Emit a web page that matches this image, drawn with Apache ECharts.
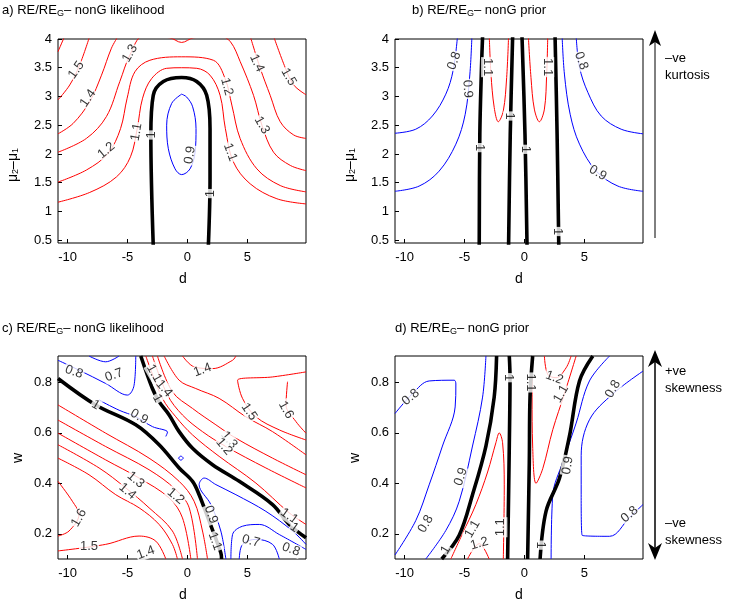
<!DOCTYPE html>
<html><head><meta charset="utf-8">
<script src="https://cdn.jsdelivr.net/npm/echarts@6/dist/echarts.min.js"></script>
<style>html,body{margin:0;background:#fff}#c{width:742px;height:605px}</style>
</head><body><div id="c"></div>
<script>
// ---------- Panel a: contours (d, mu2-mu1) ----------
const aBlack1 = [[-2.85,0.4],[-3.05,2.33],[-2.85,3.02],[-2.01,3.26],[-0.48,3.33],[0.78,3.26],[1.61,3.02],[1.89,2.44],[1.89,1.57],[1.75,0.4]];
const aBlue09 = [[-0.48,3.04],[-1.31,2.88],[-1.73,2.5],[-1.59,2.09],[-1.03,1.74],[-0.48,1.64],[0.22,1.74],[0.64,2.03],[0.72,2.44],[0.44,2.82],[-0.06,2.99],[-0.48,3.04]];
const aRed11 = [[-10.8,1.16],[-8.15,1.33],[-5.92,1.6],[-4.75,1.95],[-4.19,2.44],[-3.74,2.97],[-2.99,3.31],[-1.73,3.49],[-0.48,3.5],[0.78,3.49],[1.89,3.37],[2.73,3.02],[3.17,2.44],[3.84,1.86],[5.24,1.48],[7.47,1.22],[9.9,1.13]];
const aRed12 = [[-10.8,1.51],[-8.43,1.72],[-6.62,2.01],[-5.58,2.44],[-5.03,2.97],[-4.38,3.43],[-3.13,3.63],[-0.48,3.69],[2.17,3.63],[3.15,3.31],[3.71,2.85],[4.4,2.27],[5.8,1.74],[7.75,1.45],[9.9,1.34]];
const aRed13 = [[-10.8,2.03],[-8.43,2.27],[-6.76,2.65],[-5.64,3.26],[-4.8,3.72],[-3.69,4.05],[-1.46,4.02],[-0.48,3.94],[0.5,4.02],[2.73,4.05],[3.6,3.95],[4.4,3.61],[5.52,3.02],[6.22,2.5],[7.19,2.03],[8.59,1.8],[9.9,1.71]];
const aRed14L = [[-10.8,2.35],[-9.54,2.53],[-8.15,2.91],[-7.17,3.37],[-6.34,3.84],[-5.78,4.05]];
const aRed14R = [[5.24,4.05],[6.08,3.49],[6.91,3.02],[7.75,2.56],[8.87,2.33],[9.9,2.27]];
const aRed15L = [[-10.8,2.94],[-9.82,3.2],[-8.99,3.55],[-8.15,4.05]];
const aRed15R = [[7.19,4.05],[8.17,3.5],[8.87,3.2],[9.9,3.03]];
const aRed16 = [[-10.8,3.78],[-10.24,4.05]];
const aLabels = [[-9.27,3.46,'1.5',55],[-8.29,2.97,'1.4',55],[-4.8,3.75,'1.3',60],[-4.25,2.38,'1.1',80],[-6.76,2.06,'1.2',40],[-2.99,2.33,'1',90],[0.22,1.98,'0.9',80],[1.89,1.31,'1',90],[3.57,2.03,'1.1',-70],[3.29,3.17,'1.2',-75],[6.22,2.5,'1.3',-60],[5.8,3.58,'1.4',-65],[8.45,3.34,'1.5',-60]];

// ---------- Panel b ----------
const bBlack1 = [[-3.77,0.4],[-3.72,2.34],[-3.58,3.51],[-3.49,4.05]];
const bBlack2 = [[-1.32,0.4],[-1.18,2.34],[-0.98,4.05]];
const bBlack3 = [[0.22,0.4],[0.05,2.34],[-0.2,4.05]];
const bBlack4 = [[2.87,0.4],[2.73,2.34],[2.56,4.05]];
const bRed11L = [[-2.93,4.05],[-2.79,3.39],[-2.52,2.81],[-2.18,2.56],[-1.76,2.75],[-1.48,3.33],[-1.32,4.05]];
const bRed11R = [[0.33,4.05],[0.55,3.33],[0.83,2.78],[1.25,2.56],[1.67,2.78],[1.86,3.39],[1.95,4.05]];
const bBlue09L = [[-10.8,1.35],[-8.79,1.44],[-7.12,1.7],[-5.72,2.17],[-4.94,2.69],[-4.55,3.39],[-4.38,4.05]];
const bBlue08L = [[-10.8,2.36],[-9.07,2.43],[-7.68,2.66],[-6.56,3.04],[-5.95,3.45],[-5.58,4.05]];
const bBlue09R = [[9.9,1.35],[7.81,1.44],[6.0,1.7],[4.6,2.17],[3.82,2.69],[3.34,3.39],[3.15,4.05]];
const bBlue08R = [[9.9,2.35],[8.08,2.43],[6.41,2.66],[5.3,3.07],[4.6,3.51],[4.32,4.05]];
const bLabels = [[-5.86,3.62,'0.8',70],[-4.75,3.13,'0.9',-85],[-3.07,3.51,'1.1',-90],[-1.23,2.66,'1',-90],[-3.77,2.11,'1',-90],[0.13,2.08,'1',-90],[1.95,3.51,'1.1',-90],[4.74,3.62,'0.8',-70],[6.13,1.67,'0.9',-30],[2.8,0.65,'1',-90]];

// ---------- Panel c (d, w) ----------
const cBlack1 = [[-10.8,0.816],[-7.65,0.711],[-4.31,0.632],[-2.36,0.553],[-0.69,0.461],[0.43,0.408],[0.98,0.355],[1.82,0.25],[2.79,0.125],[2.85,0.1]];
const cBlack2 = [[-3.89,0.905],[-2.92,0.776],[-2.36,0.724],[-1.52,0.671],[-0.69,0.605],[0.43,0.539],[2.1,0.474],[4.33,0.408],[7.11,0.316],[8.5,0.237],[9.9,0.184]];
const cRed11 = [[-10.8,0.711],[-6.82,0.599],[-3.2,0.5],[-0.69,0.408],[0.56,0.329],[1.26,0.211],[1.68,0.1]];
const cRed12 = [[-10.8,0.651],[-6.82,0.546],[-3.2,0.454],[-0.97,0.375],[0.15,0.303],[0.84,0.1]];
const cRed13 = [[-10.8,0.599],[-6.82,0.493],[-4.03,0.421],[-1.52,0.342],[-0.41,0.263],[0.29,0.1]];
const cRed14 = [[-10.8,0.553],[-7.37,0.461],[-5.15,0.382],[-3.2,0.303],[-1.25,0.211],[-0.41,0.1]];
const cRed15 = [[-10.8,0.5],[-8.21,0.434],[-5.98,0.355],[-4.03,0.303],[-2.36,0.237],[-1.25,0.158],[-0.83,0.1]];
const cRed16 = [[-10.8,0.408],[-9.6,0.329],[-9.05,0.276],[-9.88,0.211],[-10.8,0.191]];
const cRed15b = [[-10.8,0.132],[-6.82,0.158],[-4.03,0.191],[-2.64,0.171],[-1.8,0.1]];
const cRedU11 = [[-3.47,0.905],[-2.08,0.737],[-0.97,0.664],[0.43,0.592],[2.65,0.507],[5.72,0.401],[8.5,0.283],[9.9,0.237]];
const cRedU12 = [[-2.92,0.905],[-1.66,0.75],[-0.41,0.671],[1.26,0.605],[3.21,0.546],[6.55,0.461],[9.9,0.382]];
const cRedU13 = [[-2.5,0.905],[-1.25,0.763],[0.43,0.697],[2.38,0.632],[4.05,0.579],[7.11,0.5],[9.9,0.434]];
const cRedU14 = [[-1.94,0.905],[-0.69,0.809],[0.7,0.776],[2.65,0.737],[4.88,0.664],[7.11,0.605],[9.9,0.513]];
const cRedU15 = [[9.9,0.842],[7.11,0.822],[4.19,0.809],[4.6,0.737],[5.72,0.664],[7.67,0.612],[9.9,0.572]];
const cRedU16 = [[8.36,0.803],[8.23,0.711],[9.06,0.645],[9.9,0.599]];
const cRedU14b = [[-0.41,0.905],[0.56,0.862],[2.1,0.855],[3.77,0.888],[4.05,0.905]];
const cBlue08 = [[-10.8,0.888],[-9.05,0.849],[-6.82,0.796],[-5.01,0.75],[-4.45,0.789],[-4.31,0.905]];
const cBlue07 = [[-8.21,0.905],[-6.82,0.882],[-5.7,0.905]];
const cBlue09 = [[-7.37,0.73],[-5.7,0.69],[-4.31,0.664],[-2.92,0.625],[-1.66,0.603],[-1.8,0.586]];
const cBlueDot = [[-0.75,0.5],[-0.55,0.508],[-0.35,0.5],[-0.55,0.492],[-0.75,0.5]];
const cBlue09b = [[3.21,0.1],[2.79,0.211],[1.96,0.316],[0.98,0.395],[1.4,0.421],[2.38,0.395],[4.05,0.355],[6.55,0.289],[8.78,0.211],[9.9,0.158]];
const cBlue08b = [[3.63,0.1],[3.77,0.197],[4.6,0.23],[6.0,0.237],[7.67,0.197],[9.9,0.138]];
const cBlue07b = [[4.33,0.1],[4.6,0.158],[5.72,0.178],[7.11,0.158],[7.67,0.1]];
const cLabels = [[-9.46,0.842,'0.8',-20],[-6.12,0.829,'0.7',20],[-2.78,0.836,'1.1',-60],[-1.94,0.776,'1.4',-50],[1.26,0.849,'1.4',20],[5.16,0.684,'1.5',-55],[8.23,0.691,'1.6',-60],[-4.03,0.664,'0.9',-30],[3.49,0.572,'1.3',-50],[3.07,0.546,'1.2',-50],[-4.31,0.414,'1.3',-40],[-5.01,0.368,'1.4',-40],[-0.97,0.349,'1.2',-40],[1.96,0.276,'0.9',-70],[2.3,0.17,'1.1',-70],[-9.05,0.263,'1.6',60],[-8.21,0.151,'1.5',0],[-3.47,0.125,'1.4',20],[5.3,0.171,'0.7',-15],[8.64,0.138,'0.8',-20],[8.5,0.27,'1.1',-35],[8.92,0.224,'1',-35],[-7.65,0.711,'1',-30],[-2.5,0.737,'1',-60]];

// ---------- Panel d ----------
const dBlack1 = [[-6.9,0.1],[-5.44,0.194],[-4.33,0.355],[-3.21,0.548],[-2.52,0.742],[-2.32,0.905]];
const dBlack2 = [[-1.4,0.1],[-1.26,0.548],[-1.2,0.819],[-1.26,0.905]];
const dBlack3 = [[0.27,0.1],[0.41,0.484],[0.47,0.742],[0.69,0.905]];
const dBlack4 = [[1.31,0.1],[1.81,0.29],[2.92,0.419],[3.76,0.587],[4.6,0.806],[5.71,0.905]];
const dRed11L = [[-6.14,0.1],[-5.17,0.2],[-4.05,0.316],[-3.07,0.445],[-2.38,0.561],[-2.1,0.6],[-1.82,0.561],[-1.68,0.394],[-1.76,0.1]];
const dRed12L = [[-4.75,0.1],[-3.77,0.161],[-2.94,0.1]];
const dRed11R = [[0.69,0.905],[0.64,0.742],[0.69,0.548],[0.97,0.4],[1.53,0.458],[2.37,0.613],[3.34,0.755],[4.32,0.905]];
const dRed12R = [[1.67,0.905],[1.95,0.832],[2.65,0.819],[3.48,0.858],[3.9,0.905]];
const dBlue08L = [[-10.8,0.677],[-9.35,0.755],[-7.95,0.806],[-5.86,0.809],[-5.72,0.794],[-5.78,0.703],[-6.84,0.548],[-7.95,0.394],[-9.07,0.252],[-10.8,0.116]];
const dBlue09L = [[-8.23,0.1],[-6.56,0.213],[-5.44,0.329],[-4.33,0.548],[-3.49,0.742],[-3.21,0.905]];
const dBlue09R = [[2.23,0.1],[2.37,0.355],[3.2,0.484],[4.32,0.639],[5.43,0.806],[7.11,0.905]];
const dBlue08R = [[9.9,0.845],[7.39,0.755],[5.43,0.652],[4.74,0.51],[4.74,0.355],[4.82,0.194],[7.11,0.19],[8.78,0.265],[9.9,0.316]];
const dLabels = [[-9.49,0.742,'0.8',40],[-8.23,0.239,'0.8',60],[-5.3,0.426,'0.9',70],[-6.56,0.136,'1',60],[-4.33,0.219,'1.1',60],[-3.77,0.161,'1.2',15],[-1.96,0.226,'1.1',90],[-1.32,0.819,'1',-90],[0.55,0.8,'1.1',-90],[2.5,0.819,'1.2',-20],[3.06,0.755,'1.1',60],[3.62,0.471,'0.9',80],[7.39,0.774,'0.8',60],[8.78,0.277,'0.8',40],[1.39,0.155,'1',-90]];

const BLACK='#000', RED='#ff0000', BLUE='#0000ff';
const panels = [
  {lines:[[aRed11,RED],[aRed12,RED],[aRed13,RED],[aRed14L,RED],[aRed14R,RED],[aRed15L,RED],[aRed15R,RED],[aRed16,RED],[aBlue09,BLUE],[aBlack1,BLACK]], labels:aLabels},
  {lines:[[bRed11L,RED],[bRed11R,RED],[bBlue09L,BLUE],[bBlue08L,BLUE],[bBlue09R,BLUE],[bBlue08R,BLUE],[bBlack1,BLACK],[bBlack2,BLACK],[bBlack3,BLACK],[bBlack4,BLACK]], labels:bLabels},
  {lines:[[cRed11,RED],[cRed12,RED],[cRed13,RED],[cRed14,RED],[cRed15,RED],[cRed16,RED],[cRed15b,RED],[cRedU11,RED],[cRedU12,RED],[cRedU13,RED],[cRedU14,RED],[cRedU15,RED],[cRedU16,RED],[cRedU14b,RED],[cBlue08,BLUE],[cBlue07,BLUE],[cBlue09,BLUE],[cBlueDot,BLUE],[cBlue09b,BLUE],[cBlue08b,BLUE],[cBlue07b,BLUE],[cBlack1,BLACK],[cBlack2,BLACK]], labels:cLabels},
  {lines:[[dRed11L,RED],[dRed12L,RED],[dRed11R,RED],[dRed12R,RED],[dBlue08L,BLUE],[dBlue09L,BLUE],[dBlue09R,BLUE],[dBlue08R,BLUE],[dBlack1,BLACK],[dBlack2,BLACK],[dBlack3,BLACK],[dBlack4,BLACK]], labels:dLabels}
];
const xTicks=[-10,-5,0,5];
const yTicksTop=[0.5,1,1.5,2,2.5,3,3.5,4];
const yTicksBot=[0.2,0.4,0.6,0.8];
const FONT='Liberation Sans';
const gridPos=[{left:58,top:39,width:248,height:204},{left:395,top:39,width:248,height:204},{left:58,top:356,width:248,height:203},{left:395,top:356,width:248,height:203}];
const grid=[],xAxis=[],yAxis=[],series=[];
panels.forEach((p,i)=>{
  grid.push(Object.assign({show:true,borderColor:'#000',borderWidth:1,backgroundColor:'#fff'},gridPos[i]));
  xAxis.push({gridIndex:i,type:'value',min:-10.8,max:9.9,splitLine:{show:false},
    axisLine:{show:false,onZero:false},axisTick:{inside:true,length:4,customValues:xTicks,lineStyle:{color:'#000'}},
    axisLabel:{customValues:xTicks,color:'#000',fontSize:13,fontFamily:FONT,margin:8}});
  const top=i<2;
  const yt= top?yTicksTop:yTicksBot;
  yAxis.push({gridIndex:i,type:'value',min:top?0.45:0.1,max:top?4:0.905,splitLine:{show:false},
    axisLine:{show:false,onZero:false},axisTick:{inside:true,length:4,customValues:yt,lineStyle:{color:'#000'}},
    axisLabel:{customValues:yt,color:'#000',fontSize:13,fontFamily:FONT,margin:6,formatter:v=>String(Math.round(v*10)/10)}});
  p.lines.forEach(([data,col])=>{
    series.push({type:'line',xAxisIndex:i,yAxisIndex:i,data:data,showSymbol:false,smooth:0.35,clip:true,silent:true,
      lineStyle:{color:col,width:col===BLACK?3.6:1}});
  });
  series.push({type:'scatter',xAxisIndex:i,yAxisIndex:i,symbolSize:0,silent:true,z:5,
    data:p.labels.map(l=>({value:[l[0],l[1]],label:{rotate:l[3]},name:l[2]})),
    label:{show:true,position:'inside',formatter:q=>q.name,color:'#000',fontSize:13,fontFamily:FONT,backgroundColor:'#fff',padding:[0,1]}});
});
const sub={g:{fontSize:9,verticalAlign:'bottom',padding:[6,0,0,0],fontFamily:FONT,color:'#000'}};
const option={animation:false,grid,xAxis,yAxis,series,
  graphic:[
    {type:'text',left:2,top:4,style:{text:'a) RE/RE{g|G}– nonG likelihood',rich:sub,fontSize:13,fontFamily:FONT,fill:'#000'}},
    {type:'text',left:412,top:4,style:{text:'b) RE/RE{g|G}– nonG prior',rich:sub,fontSize:13,fontFamily:FONT,fill:'#000'}},
    {type:'text',left:2,top:322,style:{text:'c) RE/RE{g|G}– nonG likelihood',rich:sub,fontSize:13,fontFamily:FONT,fill:'#000'}},
    {type:'text',left:395,top:322,style:{text:'d) RE/RE{g|G}– nonG prior',rich:sub,fontSize:13,fontFamily:FONT,fill:'#000'}},
    {type:'text',left:179,top:272,style:{text:'d',fontSize:14,fontFamily:FONT,fill:'#000'}},
    {type:'text',left:515,top:272,style:{text:'d',fontSize:14,fontFamily:FONT,fill:'#000'}},
    {type:'text',left:179,top:588,style:{text:'d',fontSize:14,fontFamily:FONT,fill:'#000'}},
    {type:'text',left:515,top:588,style:{text:'d',fontSize:14,fontFamily:FONT,fill:'#000'}},
    {type:'text',x:13,y:165,rotation:Math.PI/2,style:{text:'μ{s|2}–μ{s|1}',rich:{s:{fontSize:9,verticalAlign:'bottom',padding:[6,0,0,0]}},fontSize:14,fontFamily:FONT,fill:'#000',align:'center',verticalAlign:'middle'}},
    {type:'text',x:350,y:165,rotation:Math.PI/2,style:{text:'μ{s|2}–μ{s|1}',rich:{s:{fontSize:9,verticalAlign:'bottom',padding:[6,0,0,0]}},fontSize:14,fontFamily:FONT,fill:'#000',align:'center',verticalAlign:'middle'}},
    {type:'text',x:18,y:458,rotation:Math.PI/2,style:{text:'w',fontSize:14,fontFamily:FONT,fill:'#000',align:'center',verticalAlign:'middle'}},
    {type:'text',x:355,y:458,rotation:Math.PI/2,style:{text:'w',fontSize:14,fontFamily:FONT,fill:'#000',align:'center',verticalAlign:'middle'}},
    {type:'line',shape:{x1:655,y1:238,x2:655,y2:42},style:{stroke:'#000',lineWidth:1}},
    {type:'polygon',shape:{points:[[655,30],[649,46],[655,42],[661,46]]},style:{fill:'#000'}},
    {type:'text',left:665,top:50,style:{text:'–ve\nkurtosis',fontSize:13,lineHeight:17,fontFamily:FONT,fill:'#000'}},
    {type:'line',shape:{x1:655,y1:362,x2:655,y2:548},style:{stroke:'#000',lineWidth:1.5}},
    {type:'polygon',shape:{points:[[655,350],[648,367],[655,362],[662,367]]},style:{fill:'#000'}},
    {type:'polygon',shape:{points:[[655,560],[648,543],[655,548],[662,543]]},style:{fill:'#000'}},
    {type:'text',left:665,top:363,style:{text:'+ve\nskewness',fontSize:13,lineHeight:17,fontFamily:FONT,fill:'#000'}},
    {type:'text',left:665,top:515,style:{text:'–ve\nskewness',fontSize:13,lineHeight:17,fontFamily:FONT,fill:'#000'}}
  ]};
echarts.init(document.getElementById('c'),null,{renderer:'canvas'}).setOption(option);
</script></body></html>
